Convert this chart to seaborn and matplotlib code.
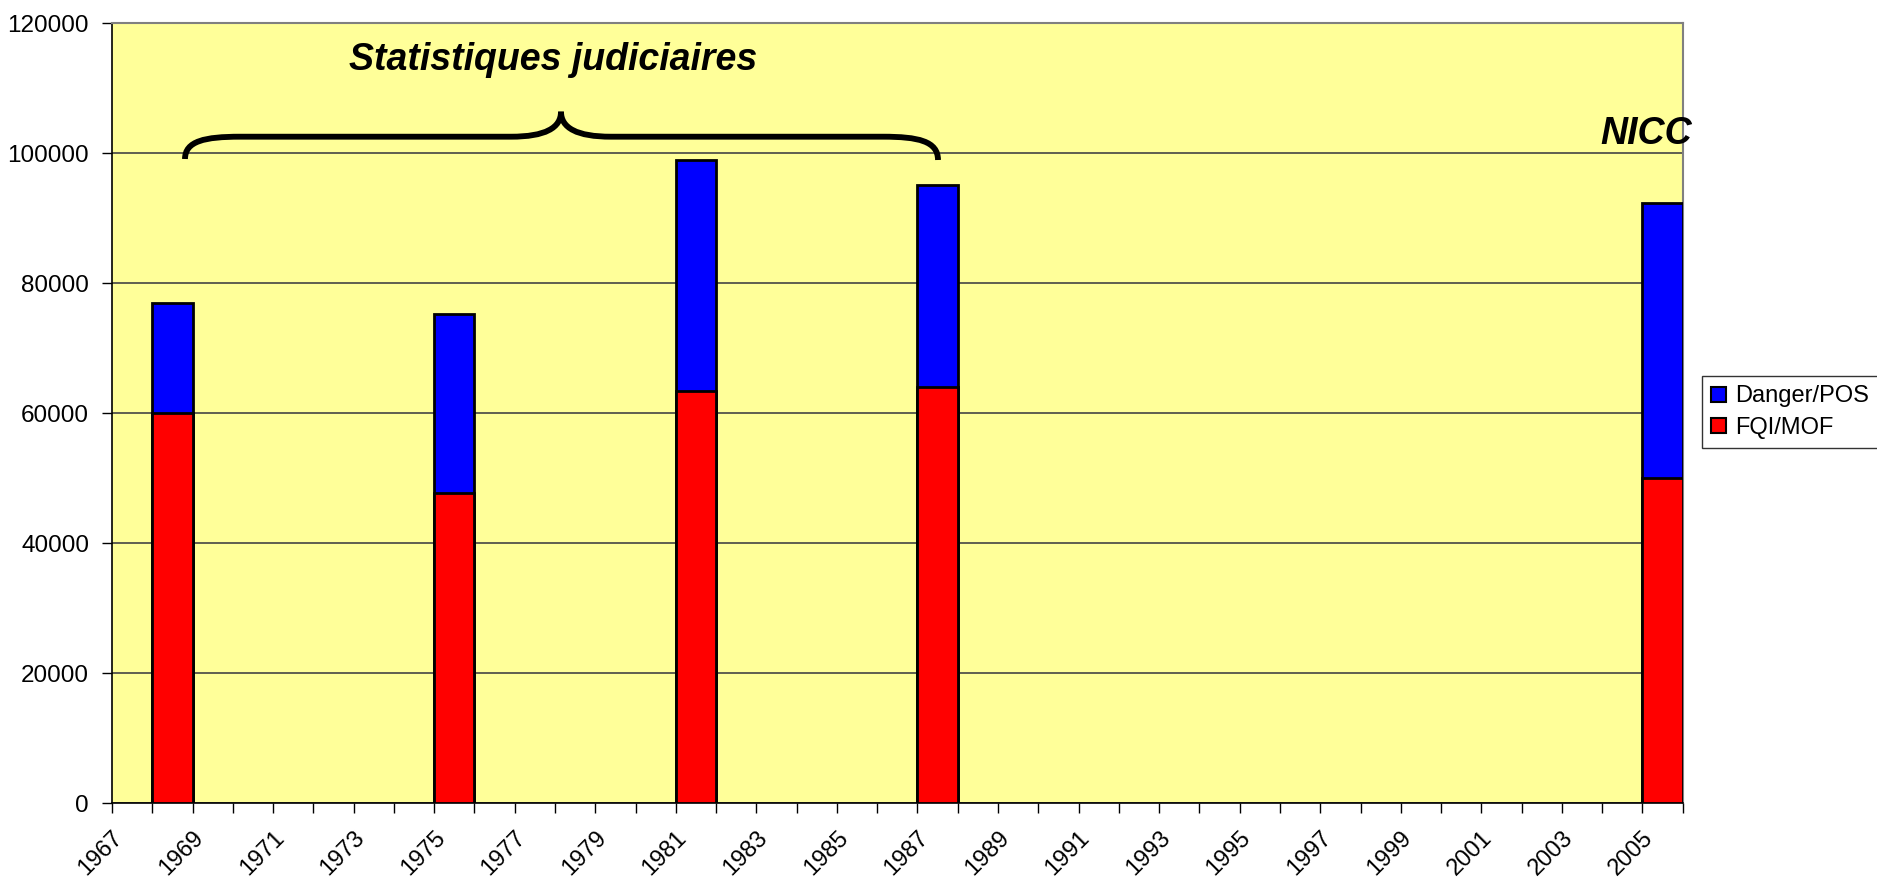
import matplotlib
matplotlib.use("Agg")
import matplotlib.pyplot as plt
import matplotlib.transforms as mtrans
from matplotlib.path import Path
from matplotlib.patches import PathPatch, Patch
import seaborn as sns
import pandas as pd
import numpy as np

#### data
all_years = list(range(1967, 2006))
years = [1968, 1975, 1981, 1987, 2005]
fqi_mof = [60000, 47700, 63500, 64100, 50100]
danger_pos = [17000, 27600, 35400, 31100, 42300]
yticks = [0, 20000, 40000, 60000, 80000, 100000, 120000]

totals = [a + b for a, b in zip(fqi_mof, danger_pos)]
df = pd.DataFrame({"year": [str(y) for y in years],
                   "fqi": fqi_mof,
                   "total": totals})
order = [str(y) for y in all_years]

sns.set_style("white")
plt.rcParams['font.family'] = ['Liberation Sans', 'DejaVu Sans']
for k in ["text.color", "axes.labelcolor", "xtick.color", "ytick.color"]:
    plt.rcParams[k] = "black"

W, H = 1877, 881
fig = plt.figure(figsize=(W / 100, H / 100), dpi=100)
ax = fig.add_axes([112 / W, (H - 803.3) / H, (1682.7 - 112) / W, (803.3 - 23.3) / H])
ax.set_facecolor("#FFFF99")

# stacked bars: total in blue, then red part on top of it
sns.barplot(data=df, x="year", y="total", order=order, color="#0000FF",
            saturation=1, width=1.0, edgecolor="black", linewidth=2, ax=ax, zorder=3)
sns.barplot(data=df, x="year", y="fqi", order=order, color="#FF0000",
            saturation=1, width=1.0, edgecolor="black", linewidth=2, ax=ax, zorder=3)

ax.set_xlim(-0.5, len(all_years) - 0.5)
ax.set_ylim(0, 120000)
ax.set_yticks(yticks)
ax.set_yticklabels([str(v) for v in yticks], fontsize=17.5)
ax.yaxis.grid(True, color="#444444", linewidth=1.2, zorder=0)
ax.set_axisbelow(True)

# ticks between categories, labels every second year
bounds = np.arange(len(all_years) + 1) - 0.5
ax.set_xticks(bounds)
labs = [str(all_years[k]) if (k % 2 == 0 and k < len(all_years)) else "" for k in range(len(bounds))]
ax.set_xticklabels(labs, rotation=45, ha="right", va="top", rotation_mode="anchor", fontsize=17)
offset = mtrans.ScaledTranslation(8 / 100, 0, fig.dpi_scale_trans)
for lab in ax.get_xticklabels():
    lab.set_transform(lab.get_transform() + offset)
ax.tick_params(axis="x", direction="out", length=7, width=1, color="black", pad=10, bottom=True)
ax.tick_params(axis="y", direction="out", length=7, width=1, color="black", pad=9.5, left=True)
ax.set_xlabel("")
ax.set_ylabel("")

for s in ["left", "bottom"]:
    ax.spines[s].set_color("black")
    ax.spines[s].set_linewidth(1.2)
for s in ["top", "right"]:
    ax.spines[s].set_color("#808080")
    ax.spines[s].set_linewidth(1.5)

# annotations
fig.text(553 / W, (H - 60) / H, "Statistiques judiciaires", fontsize=27,
         fontweight="bold", fontstyle="italic", ha="center", va="center")
fig.text(1646 / W, (H - 134) / H, "NICC", fontsize=27,
         fontweight="bold", fontstyle="italic", ha="center", va="center")

# curly brace (pixel coords, y from top)
brace_pts = [(185, 159), (185, 141), (205, 136.7), (240, 136.7),
             (511, 136.7),
             (545, 136.7), (561, 128), (561, 111.7),
             (561, 128), (577, 136.7), (611, 136.7),
             (883, 136.7),
             (918, 136.7), (938, 141), (938, 160)]
codes = [Path.MOVETO, Path.CURVE4, Path.CURVE4, Path.CURVE4,
         Path.LINETO,
         Path.CURVE4, Path.CURVE4, Path.CURVE4,
         Path.CURVE4, Path.CURVE4, Path.CURVE4,
         Path.LINETO,
         Path.CURVE4, Path.CURVE4, Path.CURVE4]
verts = [(x / W, (H - y) / H) for x, y in brace_pts]
fig.patches.append(PathPatch(Path(verts, codes), facecolor="none", edgecolor="black",
                             linewidth=4.2, capstyle="butt", transform=fig.transFigure))

handles = [Patch(facecolor="#0000FF", edgecolor="black", linewidth=1.5, label="Danger/POS"),
           Patch(facecolor="#FF0000", edgecolor="black", linewidth=1.5, label="FQI/MOF")]
leg = fig.legend(handles=handles, loc="upper left",
                 bbox_to_anchor=(1702 / W, (H - 376) / H), bbox_transform=fig.transFigure,
                 fontsize=17, frameon=True, fancybox=False, shadow=False,
                 handlelength=0.6, handleheight=0.6, handletextpad=0.4,
                 labelspacing=0.4, borderpad=0.4, borderaxespad=0)
leg.get_frame().set_edgecolor("black")
leg.get_frame().set_linewidth(1.0)

plt.savefig("out.png", dpi=100)
